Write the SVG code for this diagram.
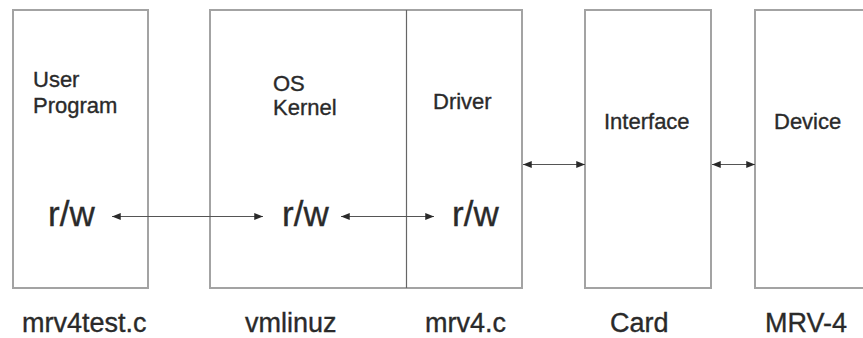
<svg xmlns="http://www.w3.org/2000/svg" width="863" height="338" viewBox="0 0 863 338">
<style>
.box{fill:#fff;stroke:#a3a3a3;stroke-width:2}
.div{stroke:#666;stroke-width:1.2}
.t{font-family:"Liberation Sans",Arial,sans-serif;fill:#2a2a2a;stroke:#2a2a2a;stroke-width:0.35}
.lbl{font-size:22px}
.rw{font-size:35px}
.bot{font-size:27px}
.con{stroke:#555;stroke-width:1.2;fill:none;marker-start:url(#ah);marker-end:url(#ah)}
</style>
<defs>
<marker id="ah" viewBox="0 0 10 8" refX="10" refY="4" markerWidth="9" markerHeight="7" markerUnits="userSpaceOnUse" orient="auto-start-reverse">
<path d="M0,0 L10,4 L0,8 Z" fill="#2a2a2a"/>
</marker>
</defs>
<rect width="863" height="338" fill="#fff"/>
<g id="user-program">
<rect class="box" x="13" y="10" width="135" height="278"/>
<text class="t lbl" x="33" y="87">User</text>
<text class="t lbl" x="33" y="113">Program</text>
<text class="t rw" x="48" y="226">r/w</text>
<text class="t bot" x="22" y="332">mrv4test.c</text>
</g>
<g id="os-kernel">
<rect class="box" x="210" y="10" width="312" height="278"/>
<line class="div" x1="406.5" y1="10" x2="406.5" y2="288"/>
<text class="t lbl" x="273" y="91">OS</text>
<text class="t lbl" x="273" y="115">Kernel</text>
<text class="t rw" x="282" y="226">r/w</text>
<text class="t bot" x="245" y="332">vmlinuz</text>
</g>
<g id="driver">
<text class="t lbl" x="433" y="109">Driver</text>
<text class="t rw" x="452" y="226">r/w</text>
<text class="t bot" x="425" y="332">mrv4.c</text>
</g>
<g id="interface">
<rect class="box" x="585" y="10" width="126" height="278"/>
<text class="t lbl" x="604" y="129">Interface</text>
<text class="t bot" x="610" y="332">Card</text>
</g>
<g id="device">
<rect class="box" x="755" y="10" width="120" height="278"/>
<text class="t lbl" x="774" y="129">Device</text>
<text class="t bot" x="765" y="332">MRV-4</text>
</g>
<g id="connectors">
<line class="con" x1="112" y1="216.5" x2="263" y2="216.5"/>
<line class="con" x1="341" y1="216.5" x2="434" y2="216.5"/>
<line class="con" x1="523" y1="164.5" x2="585" y2="164.5"/>
<line class="con" x1="712" y1="164.5" x2="755" y2="164.5"/>
</g>
</svg>
